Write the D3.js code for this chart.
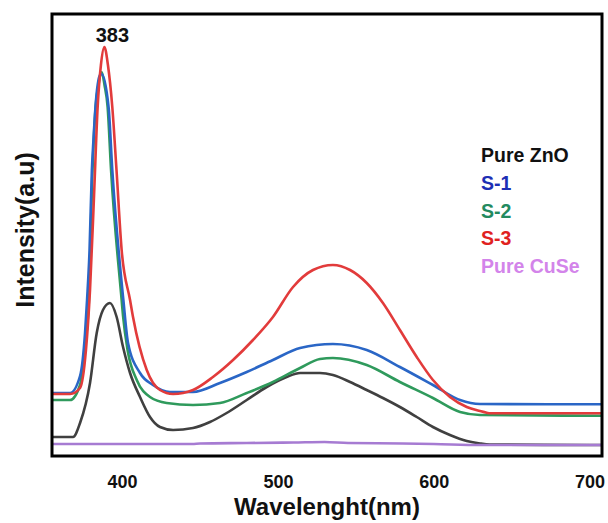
<!DOCTYPE html>
<html>
<head>
<meta charset="utf-8">
<script src="https://cdn.jsdelivr.net/npm/d3@7/dist/d3.min.js"></script>
<style>
  body { margin: 0; background: #fff; }
  svg text { font-family: "Liberation Sans", Arial, sans-serif; font-weight: bold; }
</style>
</head>
<body>
<div id="chart"></div>
<script>
// PL spectra, [wavelength nm, intensity a.u.]
const pureZnO = [[355,19],[366.6,19],[368.5,19],[373,33],[379.4,73],[383.7,123],[387.7,146],[392.2,153],[396.5,139],[400.6,109],[405.1,83],[411.5,59],[417.9,39],[424.3,29],[432.7,26],[445.5,28],[456.4,34],[467.1,43],[480,56],[492.8,69],[505.6,79],[514.2,83],[527,83],[535.3,81],[546.3,74],[557,66],[567.4,58],[578.3,49],[589.1,39],[599.5,29],[610.4,21],[621.2,15],[629.7,12.5],[636.1,11.5],[708,11]];
const s1 = [[355,63],[366.6,63],[373,80],[376.2,123],[377.5,156],[379.1,206],[380.6,286],[381.6,316],[382.9,349],[385.8,381],[386.8,382],[391.3,349],[393.7,286],[400.8,156],[403.8,113],[411.5,83],[419.8,71],[430.7,64],[445.5,64],[462.8,73],[480,84],[496.8,96],[514.2,108],[535.3,112],[557,106],[578.3,89],[599.5,71],[616.9,56],[629.7,52],[708,51.7]];
const s2 = [[355,56],[366.6,56],[373,71],[376.2,110],[378.7,156],[381,286],[381.8,316],[383,349],[384.8,371],[386.9,384],[388.7,371],[390.7,349],[392.9,286],[399.7,156],[400.6,140],[403.5,106],[409.4,76],[417.9,59],[428.6,53],[445.5,51],[462.8,53],[480,63],[496.8,74],[514.2,88],[527,97],[535.3,98],[557,91],[578.3,74],[599.5,58],[616.9,44],[629.7,41],[708,40.3]];
const s3 = [[355,62],[366.6,62],[373,68],[376.8,106],[379.4,166],[382,261],[384.3,349],[386.4,391],[388.6,409],[390.9,391],[393.7,349],[396.4,286],[399.7,206],[405.1,156],[407,139],[415.8,86],[424.3,66],[432.7,62],[445.5,66],[458.3,79],[471.2,96],[484,116],[496.8,139],[509.7,169],[522.5,186],[535.3,191],[546.3,186],[557,173],[567.4,153],[578.3,126],[589.1,99],[599.5,76],[610.4,59],[621.2,49],[629.7,45],[634,43.3],[636.1,42.7],[708,42.7]];
const pureCuSe = [[355,12],[445,12],[450,12.5],[480,13],[510,13.5],[530,14],[545,13],[580,12.5],[600,12],[630,11],[708,11]];

const xTicks = [400, 500, 600, 700];
const peakLabel = { wl: 388.6, text: "383" };

const series = [
  { name: "Pure ZnO", data: pureZnO, line: "#404040", label: "#111111" },
  { name: "S-1", data: s1, line: "#2a66c6", label: "#1d2fb4" },
  { name: "S-2", data: s2, line: "#2f9a5c", label: "#238a5f" },
  { name: "S-3", data: s3, line: "#e23b3b", label: "#e0221f" },
  { name: "Pure CuSe", data: pureCuSe, line: "#a67bd2", label: "#d384ea" }
];

const width = 608, height = 523;
const margin = { top: 14, right: 6, bottom: 67, left: 52 };

const svg = d3.select("#chart").append("svg")
  .attr("width", width)
  .attr("height", height);

const x = d3.scaleLinear().domain([355, 708]).range([margin.left, width - margin.right]);
const y = d3.scaleLinear().domain([0, 442]).range([height - margin.bottom, margin.top]);

svg.append("clipPath").attr("id", "plot-clip")
  .append("rect")
  .attr("x", margin.left).attr("y", margin.top)
  .attr("width", width - margin.left - margin.right)
  .attr("height", height - margin.top - margin.bottom);

const line = d3.line()
  .x(d => x(d[0]))
  .y(d => y(d[1]))
  .curve(d3.curveMonotoneX);

// draw order: ZnO, S-2, S-1, S-3 on top of peaks, CuSe last
const order = [0, 2, 1, 3, 4];
const lines = svg.append("g").attr("clip-path", "url(#plot-clip)");
order.forEach(i => {
  lines.append("path")
    .datum(series[i].data)
    .attr("fill", "none")
    .attr("stroke", series[i].line)
    .attr("stroke-width", 2.6)
    .attr("stroke-linejoin", "round")
    .attr("d", line);
});

// frame
svg.append("rect")
  .attr("x", margin.left).attr("y", margin.top)
  .attr("width", width - margin.left - margin.right)
  .attr("height", height - margin.top - margin.bottom)
  .attr("fill", "none")
  .attr("stroke", "#000")
  .attr("stroke-width", 3);

// x axis (labels only)
const xAxis = svg.append("g")
  .attr("transform", `translate(0,${height - margin.bottom})`)
  .call(d3.axisBottom(x).tickValues(xTicks).tickSize(0).tickPadding(19));
xAxis.select(".domain").remove();
xAxis.selectAll("text")
  .attr("font-size", 18)
  .attr("font-family", "Liberation Sans, Arial, sans-serif")
  .attr("font-weight", "bold")
  .attr("fill", "#111");

// axis titles
svg.append("text")
  .attr("x", 327)
  .attr("y", 515)
  .attr("text-anchor", "middle")
  .attr("font-size", 24)
  .attr("fill", "#111")
  .text("Wavelenght(nm)");

svg.append("text")
  .attr("transform", "translate(34,230) rotate(-90)")
  .attr("text-anchor", "middle")
  .attr("font-size", 25)
  .attr("fill", "#111")
  .text("Intensity(a.u)");

// peak annotation
svg.append("text")
  .attr("x", x(peakLabel.wl) + 8)
  .attr("y", 42)
  .attr("text-anchor", "middle")
  .attr("font-size", 20)
  .attr("fill", "#111")
  .text(peakLabel.text);

// legend
const legend = svg.append("g").attr("transform", "translate(481,162)");
series.forEach((s, i) => {
  legend.append("text")
    .attr("x", 0)
    .attr("y", i * 27.8)
    .attr("font-size", 19.5)
    .attr("fill", s.label)
    .text(s.name);
});
</script>
</body>
</html>
